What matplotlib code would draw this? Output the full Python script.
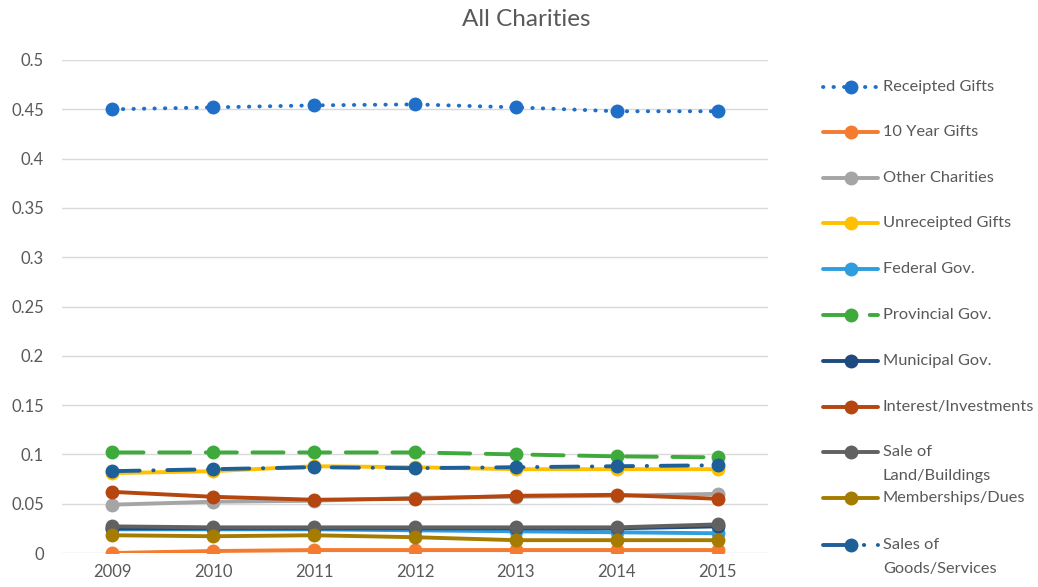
import numpy as np
import matplotlib.pyplot as plt
from matplotlib.lines import Line2D

plt.rcParams['font.family'] = ['Lato', 'DejaVu Sans']

years = ["2009", "2010", "2011", "2012", "2013", "2014", "2015"]

receipted = [0.450, 0.452, 0.454, 0.455, 0.452, 0.448, 0.448]
ten_year = [0.000, 0.002, 0.003, 0.003, 0.003, 0.003, 0.003]
other_char = [0.049, 0.052, 0.053, 0.056, 0.057, 0.058, 0.060]
unreceipted = [0.081, 0.083, 0.088, 0.087, 0.085, 0.085, 0.085]
federal = [0.024, 0.024, 0.024, 0.023, 0.022, 0.021, 0.020]
provincial = [0.102, 0.102, 0.102, 0.102, 0.100, 0.098, 0.097]
municipal = [0.025, 0.025, 0.025, 0.025, 0.025, 0.025, 0.027]
interest = [0.062, 0.057, 0.054, 0.055, 0.058, 0.059, 0.055]
land = [0.027, 0.026, 0.026, 0.026, 0.026, 0.026, 0.029]
members = [0.018, 0.017, 0.018, 0.016, 0.013, 0.013, 0.013]
goods = [0.083, 0.085, 0.087, 0.086, 0.087, 0.088, 0.089]

series = [
    ("Receipted Gifts", receipted, "#1f6fc8", (0, (0.1, 2.6))),
    ("10 Year Gifts", ten_year, "#f47b2f", "-"),
    ("Other Charities", other_char, "#a5a5a5", "-"),
    ("Unreceipted Gifts", unreceipted, "#ffc000", "-"),
    ("Federal Gov.", federal, "#2f9ede", "-"),
    ("Provincial Gov.", provincial, "#3eaa3c", (0, (8, 4))),
    ("Municipal Gov.", municipal, "#1e4a80", "-"),
    ("Interest/Investments", interest, "#b5460f", "-"),
    ("Sale of\nLand/Buildings", land, "#616161", "-"),
    ("Memberships/Dues", members, "#a67c00", "-"),
    ("Sales of\nGoods/Services", goods, "#1f5f98", (0, (7, 3.5, 0.1, 3.5))),
]

txt = "#595959"
W, H = 1038, 587
fig = plt.figure(figsize=(W / 100, H / 100), dpi=100)
ax = fig.add_axes([62 / W, 1 - 553 / H, (768 - 62) / W, (553 - 60) / H])

x = np.arange(len(years))
for name, vals, col, ls in series:
    ax.plot(x, vals, color=col, linestyle=ls, lw=2.8, marker="o", ms=9,
            dash_capstyle="round", solid_capstyle="round")

ax.set_xlim(-0.5, len(years) - 0.5)
ax.set_ylim(0, 0.5)
ax.set_yticks(np.arange(0, 0.51, 0.05))
ax.set_yticklabels(["0", "0.05", "0.1", "0.15", "0.2", "0.25", "0.3",
                    "0.35", "0.4", "0.45", "0.5"])
ax.set_xticks(x)
ax.set_xticklabels(years)
ax.tick_params(length=0, labelsize=12, colors=txt)
ax.tick_params(axis="y", pad=13)
ax.tick_params(axis="x", pad=8)
ax.yaxis.grid(True, color="#d9d9d9", lw=1)
ax.set_axisbelow(True)
for s in ax.spines.values():
    s.set_visible(False)

fig.text(526 / W, 1 - 19 / H, "All Charities", ha="center", va="center",
         fontsize=17.5, color=txt)

# legend drawn by hand so two-line labels keep even row spacing
rows = [87, 132, 178, 223, 269, 315, 361, 407, 452, 498, 545]
for (name, vals, col, ls), ry in zip(series, rows):
    yy = 1 - ry / H
    fig.add_artist(Line2D([823 / W, 851 / W, 878 / W], [yy] * 3, color=col,
                          linestyle=ls, lw=2.8, marker="o", ms=9,
                          markevery=[1], dash_capstyle="round",
                          solid_capstyle="round"))
    for i, line in enumerate(name.split("\n")):
        fig.text(883 / W, 1 - (ry + 24 * i) / H, line, ha="left", va="center",
                 fontsize=11.8, color=txt)

fig.savefig("out.png", dpi=100)
